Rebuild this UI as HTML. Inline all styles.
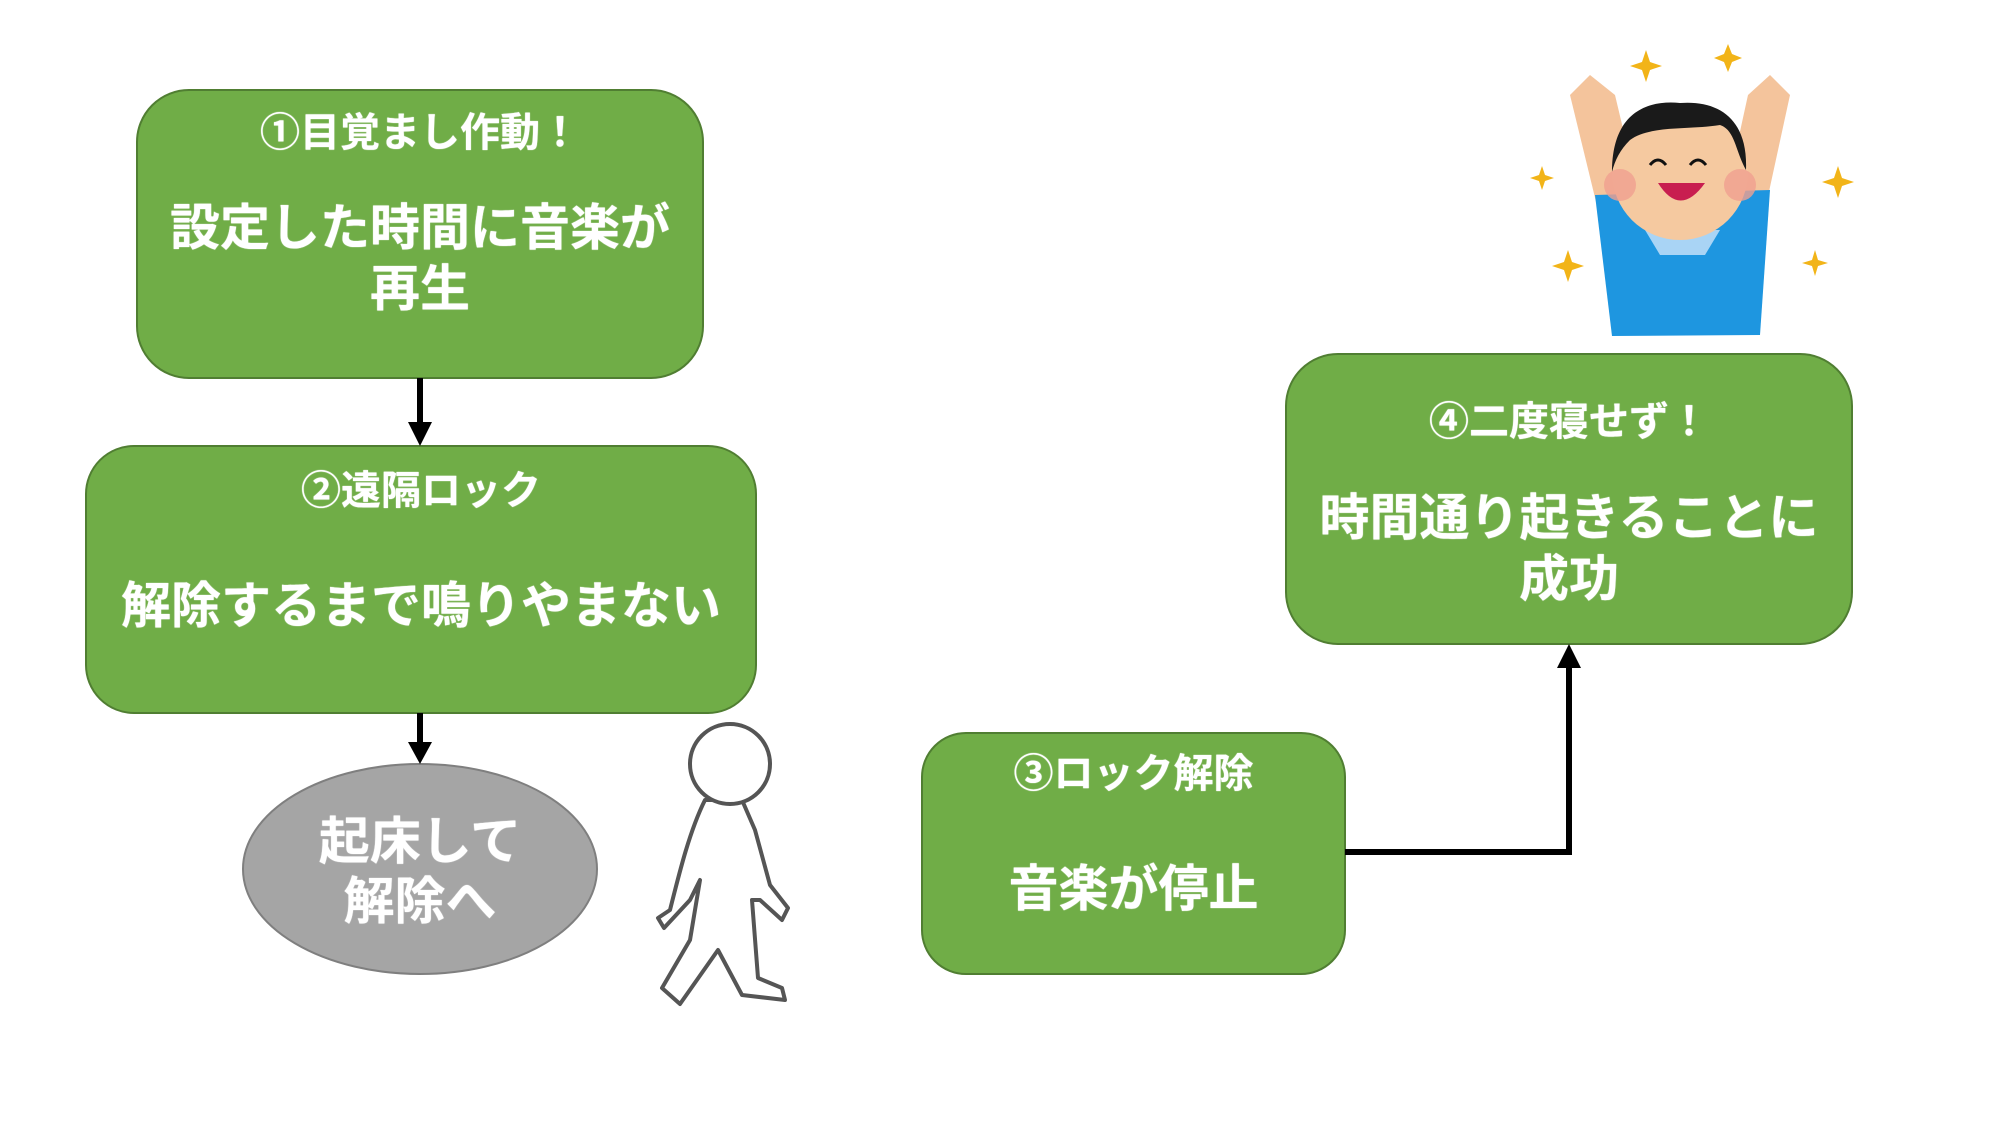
<!DOCTYPE html>
<html><head><meta charset="utf-8"><style>
html,body{margin:0;padding:0;background:#fff}
body{width:2000px;height:1125px;position:relative;overflow:hidden;font-family:"Liberation Sans","Noto Sans CJK JP",sans-serif;font-weight:bold;color:#fff}
.t{position:absolute;text-align:center;white-space:nowrap;line-height:1;text-shadow:0 0 1px #fff}
</style></head><body>
<svg width="2000" height="1125" style="position:absolute;left:0;top:0">
<g fill="#70ad47" stroke="#507e32" stroke-width="2">
<rect x="137" y="90" width="566" height="288" rx="52"/>
<rect x="86" y="446" width="670" height="267" rx="48"/>
<rect x="922" y="733" width="423" height="241" rx="44"/>
<rect x="1286" y="354" width="566" height="290" rx="52"/>
</g>
<ellipse cx="420" cy="869" rx="177" ry="105" fill="#a5a5a5" stroke="#7f7f7f" stroke-width="2"/>
<g stroke="#000" stroke-width="6" fill="none">
<line x1="420" y1="378" x2="420" y2="425"/>
<line x1="420" y1="713" x2="420" y2="745"/>
<polyline points="1345,852 1569,852 1569,665"/>
</g>
<g fill="#000">
<path d="M408,422 L432,422 L420,446z"/>
<path d="M408,742 L432,742 L420,764z"/>
<path d="M1557,668 L1581,668 L1569,644z"/>
</g>
<g fill="#fff" stroke="#555" stroke-width="4" stroke-linejoin="round">
<path d="M705,800 C690,830 680,870 670,910 L658,918 L664,928 L690,900 L700,880 L690,940 L662,988 L680,1004 L718,950 L742,995 L785,1000 L782,988 L758,978 L752,900 L760,900 L782,920 L788,908 L770,885 L755,830 L742,800z"/>
<circle cx="730" cy="764" r="40"/>
</g>
<g>
<path d="M1598,210 L1570,95 L1590,75 L1615,95 L1640,200z" fill="#f4c49c"/>
<path d="M1765,210 L1790,95 L1770,75 L1748,95 L1725,200z" fill="#f4c49c"/>
<path d="M1595,195 L1770,190 L1760,335 L1612,336z" fill="#1e96e0"/>
<path d="M1645,230 L1720,230 L1705,255 L1660,255z" fill="#a9d4f5"/>
<circle cx="1680" cy="172" r="68" fill="#f5c9a0"/>
<path d="M1612,172 C1612,110 1650,100 1680,103 C1720,100 1748,120 1746,170 C1735,150 1735,130 1720,125 C1690,130 1650,125 1630,140 C1620,150 1615,160 1612,172z" fill="#1a1a1a"/>
<circle cx="1620" cy="185" r="16" fill="#f0a090" opacity=".8"/>
<circle cx="1740" cy="185" r="16" fill="#f0a090" opacity=".8"/>
<path d="M1658,183 Q1680,218 1705,183z" fill="#c81e50"/>
<path d="M1650,165 q8,-10 16,0 M1690,165 q8,-10 16,0" stroke="#111" stroke-width="3" fill="none"/>
<g fill="#f2b418">
<path d="M1646,50 l4,12 12,4 -12,4 -4,12 -4,-12 -12,-4 12,-4z"/>
<path d="M1728,44 l4,10 10,4 -10,4 -4,10 -4,-10 -10,-4 10,-4z"/>
<path d="M1542,166 l3,9 9,3 -9,3 -3,9 -3,-9 -9,-3 9,-3z"/>
<path d="M1838,166 l4,12 12,4 -12,4 -4,12 -4,-12 -12,-4 12,-4z"/>
<path d="M1568,250 l4,12 12,4 -12,4 -4,12 -4,-12 -12,-4 12,-4z"/>
<path d="M1815,250 l3,10 10,3 -10,3 -3,10 -3,-10 -10,-3 10,-3z"/>
</g>
</g>
</svg>
<div class="t" style="left:137px;width:566px;top:113px;font-size:40px">①目覚まし作動！</div>
<div class="t" style="left:137px;width:566px;top:198px;font-size:50px;line-height:61px">設定した時間に音楽が<br>再生</div>
<div class="t" style="left:86px;width:670px;top:471px;font-size:40px">②遠隔ロック</div>
<div class="t" style="left:86px;width:670px;top:581px;font-size:50px">解除するまで鳴りやまない</div>
<div class="t" style="left:243px;width:354px;top:812px;font-size:51px;line-height:60px">起床して<br>解除へ</div>
<div class="t" style="left:922px;width:423px;top:754px;font-size:40px">③ロック解除</div>
<div class="t" style="left:922px;width:423px;top:864px;font-size:50px">音楽が停止</div>
<div class="t" style="left:1286px;width:566px;top:402px;font-size:40px">④二度寝せず！</div>
<div class="t" style="left:1286px;width:566px;top:488px;font-size:50px;line-height:61px">時間通り起きることに<br>成功</div>
</body></html>
